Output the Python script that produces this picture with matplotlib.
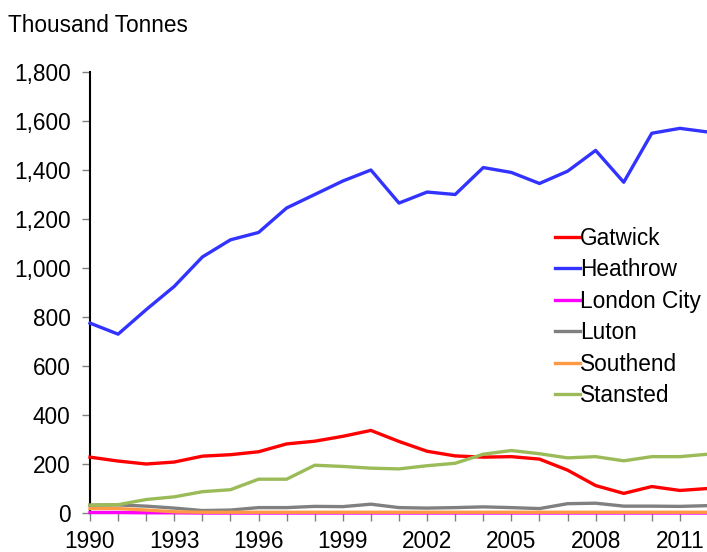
import matplotlib
matplotlib.use("Agg")
import matplotlib.pyplot as plt
from matplotlib.ticker import FuncFormatter, MultipleLocator

years = list(range(1990, 2013))
gatwick = [228, 212, 200, 208, 232, 238, 250, 282, 293, 313, 337, 292, 252, 233, 228, 230, 220, 175, 112, 80, 108, 92, 100]
heathrow = [775, 730, 830, 925, 1045, 1115, 1145, 1245, 1300, 1355, 1400, 1265, 1310, 1300, 1410, 1390, 1345, 1395, 1480, 1350, 1550, 1570, 1555]
london_city = [2, 2, 1, 1, 0, 0, 0, 0, 0, 0, 0, 0, 0, 0, 0, 0, 0, 0, 0, 0, 0, 0, 0]
luton = [32, 33, 28, 20, 10, 12, 22, 22, 27, 26, 36, 22, 20, 22, 25, 22, 18, 38, 40, 28, 28, 27, 30]
southend = [18, 18, 12, 5, 3, 3, 3, 3, 3, 3, 3, 3, 3, 3, 3, 3, 3, 3, 3, 3, 3, 3, 3]
stansted = [32, 34, 55, 66, 87, 95, 138, 138, 195, 190, 183, 180, 193, 203, 240, 255, 242, 225, 230, 213, 230, 230, 240]

series = [
    ("Gatwick", gatwick, "#ff0000"),
    ("Heathrow", heathrow, "#3333ff"),
    ("London City", london_city, "#ff00ff"),
    ("Luton", luton, "#808080"),
    ("Southend", southend, "#ff9944"),
    ("Stansted", stansted, "#9bbb59"),
]
xtick_labels = list(range(1990, 2012, 3))

plt.rcParams['font.family'] = ['Liberation Sans', 'DejaVu Sans']
FS = 16.3

fig = plt.figure(figsize=(7.07, 5.52), dpi=100)
ax = fig.add_axes([90/707, (552-513)/552, (708-90)/707, (513-72)/552])

for name, vals, col in series:
    ax.plot(years, vals, color=col, lw=2.4, label=name, clip_on=False, zorder=3)

ax.set_xlim(1990, 2012)
ax.set_ylim(0, 1800)
ax.yaxis.set_major_locator(MultipleLocator(200))
ax.yaxis.set_major_formatter(FuncFormatter(lambda v, p: f"{int(v):,}"))
ax.set_xticks(years, minor=True)
ax.set_xticks(xtick_labels)
ax.tick_params(axis='both', which='both', direction='out', color='#808080', labelsize=FS, width=1)
ax.tick_params(axis='y', length=6, pad=8)
ax.tick_params(axis='x', which='major', length=6, pad=6)
ax.tick_params(axis='x', which='minor', length=6)
for s in ['top', 'right']:
    ax.spines[s].set_visible(False)
ax.spines['left'].set_linewidth(1.5)
ax.spines['bottom'].set_linewidth(1.5)

fig.text(8/707, 1 - 25/552, "Thousand Tonnes", fontsize=FS, va='center', ha='left')

leg = ax.legend(loc='upper left', bbox_to_anchor=(555/707, 1 - 227/552), bbox_transform=fig.transFigure,
                frameon=False, fontsize=FS, handlelength=1.1, handletextpad=0.0,
                labelspacing=0.37, borderaxespad=0, borderpad=0)

fig.savefig("out.png", dpi=100)
